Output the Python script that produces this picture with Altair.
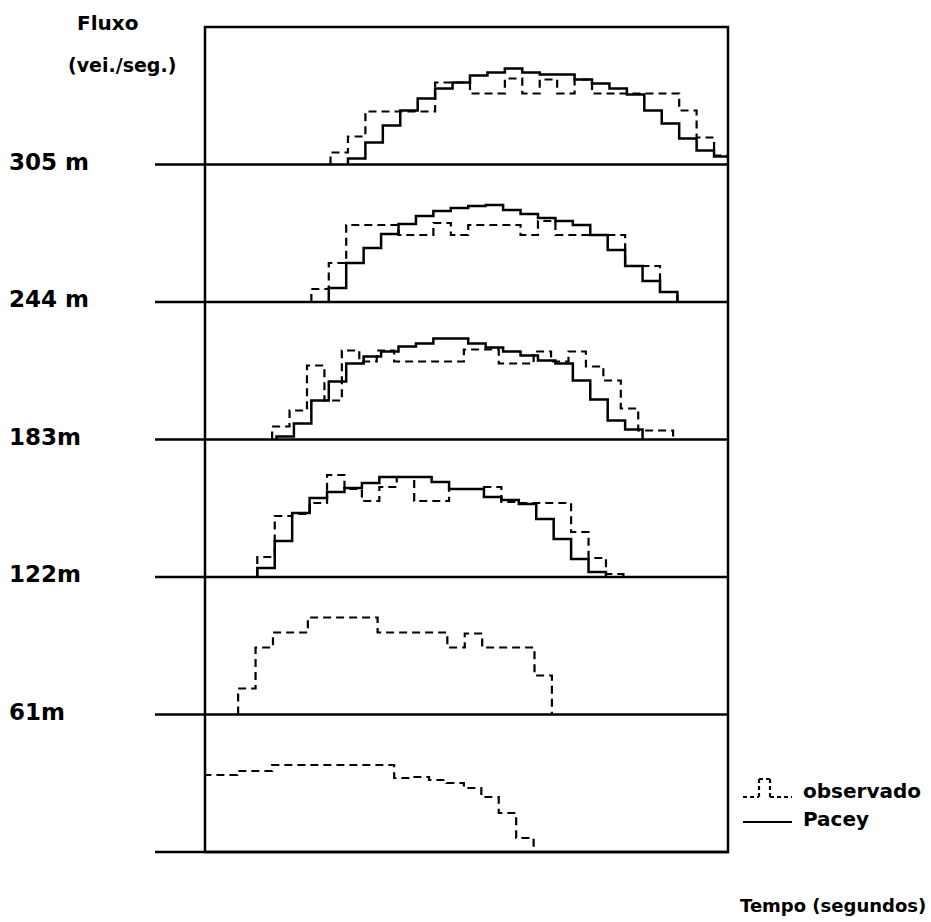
import altair as alt
import pandas as pd

# Eixo do tempo (s) e escala vertical de cada painel (vei./seg.)
TEMPO_MAX = 300
PASSO = 10
ALTURA_PAINEL = 1.375
N_PAINEIS = 6

# Rótulos das secções, de baixo para cima
rotulos = ["", "61m", "122m", "183m", "244 m", "305 m"]

# Fluxo observado por intervalo de 10 s: (painel, início do 1º intervalo, fluxos)
obs_0m_t0 = -1.5
obs_0m = [0.77, 0.77, 0.81, 0.81, 0.87, 0.87, 0.87, 0.87, 0.87, 0.87, 0.87,
          0.74, 0.75, 0.72, 0.69, 0.64, 0.55, 0.39, 0.14]
obs_61_t0 = 19
obs_61 = [0.26, 0.67, 0.82, 0.82, 0.97, 0.97, 0.97, 0.97, 0.82, 0.82, 0.82,
          0.82, 0.67, 0.81, 0.67, 0.67, 0.67, 0.39]
obs_122_t0 = 30
obs_122 = [0.20, 0.61, 0.63, 0.74, 1.02, 0.88, 0.76, 0.90, 1.00, 0.76, 0.76,
           0.88, 0.88, 0.90, 0.75, 0.74, 0.74, 0.74, 0.45, 0.19, 0.03]
obs_183_t0 = 38.5
obs_183 = [0.13, 0.29, 0.74, 0.39, 0.89, 0.78, 0.89, 0.78, 0.78, 0.78, 0.78,
           0.90, 0.90, 0.76, 0.76, 0.88, 0.78, 0.88, 0.73, 0.59, 0.31, 0.09, 0.09]
obs_244_t0 = 61
obs_244 = [0.13, 0.39, 0.77, 0.77, 0.77, 0.67, 0.67, 0.79, 0.67, 0.77, 0.77,
           0.77, 0.67, 0.81, 0.67, 0.67, 0.67, 0.67, 0.36, 0.36, 0.10]
obs_305_t0 = 72
obs_305 = [0.12, 0.28, 0.53, 0.53, 0.53, 0.53, 0.82, 0.82, 0.71, 0.71, 0.86,
           0.71, 0.85, 0.71, 0.85, 0.71, 0.71, 0.71, 0.71, 0.71, 0.54, 0.27, 0.09]

# Fluxo previsto pelo modelo de Pacey
pac_122_t0 = 30
pac_122 = [0.09, 0.36, 0.64, 0.79, 0.85, 0.89, 0.94, 1.00, 1.00, 1.00, 0.95,
           0.88, 0.88, 0.80, 0.77, 0.73, 0.58, 0.38, 0.18, 0.05]
pac_183_t0 = 41
pac_183 = [0.03, 0.16, 0.39, 0.58, 0.76, 0.83, 0.88, 0.93, 0.96, 1.01, 1.01,
           0.96, 0.92, 0.88, 0.84, 0.79, 0.76, 0.59, 0.40, 0.19, 0.10]
pac_244_t0 = 71
pac_244 = [0.14, 0.39, 0.54, 0.68, 0.78, 0.86, 0.91, 0.94, 0.96, 0.97, 0.92,
           0.88, 0.84, 0.81, 0.77, 0.67, 0.52, 0.36, 0.21, 0.10]
pac_305_t0 = 82
pac_305 = [0.06, 0.22, 0.39, 0.54, 0.66, 0.76, 0.82, 0.89, 0.92, 0.96, 0.92,
           0.90, 0.90, 0.85, 0.81, 0.76, 0.70, 0.54, 0.41, 0.26, 0.14, 0.08]

series = [
    (0, "observado", obs_0m_t0, obs_0m),
    (1, "observado", obs_61_t0, obs_61),
    (2, "observado", obs_122_t0, obs_122),
    (3, "observado", obs_183_t0, obs_183),
    (4, "observado", obs_244_t0, obs_244),
    (5, "observado", obs_305_t0, obs_305),
    (2, "Pacey", pac_122_t0, pac_122),
    (3, "Pacey", pac_183_t0, pac_183),
    (4, "Pacey", pac_244_t0, pac_244),
    (5, "Pacey", pac_305_t0, pac_305),
]

# Histogramas em degraus: cada intervalo vira um patamar horizontal
linhas = []
for painel, serie, t0, fluxos in series:
    base = painel * ALTURA_PAINEL
    pontos = [(t0, 0.0)]
    for k, f in enumerate(fluxos):
        pontos.append((t0 + k * PASSO, f))
        pontos.append((t0 + (k + 1) * PASSO, f))
    pontos.append((t0 + len(fluxos) * PASSO, 0.0))
    for i, (t, f) in enumerate(pontos):
        linhas.append({"id": f"{serie}-{painel}", "serie": serie, "ordem": i,
                       "tempo": t, "y": base + f})
df = pd.DataFrame(linhas)

df_base = pd.DataFrame({
    "base": [i * ALTURA_PAINEL for i in range(N_PAINEIS)],
    "rotulo": rotulos,
})

W, H = 523, 825
x_esc = alt.Scale(domain=[0, TEMPO_MAX])
y_esc = alt.Scale(domain=[0, N_PAINEIS * ALTURA_PAINEL])
FONTE = "DejaVu Sans"

degraus_obs = alt.Chart(df).transform_filter(alt.datum.serie == "observado").mark_line(
    clip=True, color="black", strokeWidth=2.2, strokeDash=[8, 5]
).encode(
    x=alt.X("tempo:Q", scale=x_esc, axis=None),
    y=alt.Y("y:Q", scale=y_esc, axis=None),
    detail="id:N",
    order="ordem:Q",
)

degraus_pac = alt.Chart(df).transform_filter(alt.datum.serie == "Pacey").mark_line(
    clip=True, color="black", strokeWidth=2.5
).encode(
    x=alt.X("tempo:Q", scale=x_esc, axis=None),
    y=alt.Y("y:Q", scale=y_esc, axis=None),
    detail="id:N",
    order="ordem:Q",
)

bases = alt.Chart(df_base).mark_rule(color="black", strokeWidth=2.5).encode(
    y=alt.Y("base:Q", scale=y_esc, axis=None),
    x=alt.value(-50),
    x2=alt.value(W),
)

textos_paineis = alt.Chart(df_base).mark_text(
    align="left", baseline="alphabetic", dy=5, font=FONTE, fontSize=23,
    fontWeight="bold", color="black"
).encode(
    y=alt.Y("base:Q", scale=y_esc, axis=None),
    x=alt.value(-196),
    text="rotulo:N",
)


def texto(s, x, y, tamanho):
    return alt.Chart(df_base.head(1)).mark_text(
        align="left", baseline="alphabetic", font=FONTE, fontSize=tamanho,
        fontWeight="bold", color="black"
    ).encode(x=alt.value(x), y=alt.value(y), text=alt.value(s))


def traco(x1, x2, y1, y2, tracejado=None):
    kw = {"color": "black", "strokeWidth": 2.2}
    if tracejado:
        kw["strokeDash"] = tracejado
    return alt.Chart(df_base.head(1)).mark_rule(**kw).encode(
        x=alt.value(x1), x2=alt.value(x2), y=alt.value(y1), y2=alt.value(y2)
    )


legenda = [
    # símbolo do observado: impulso tracejado
    traco(538, 554, 770, 770, [4, 3]),
    traco(554, 554, 752, 770, [4, 3]),
    traco(554, 565, 752, 752, [4, 3]),
    traco(565, 565, 752, 770, [4, 3]),
    traco(565, 587, 770, 770, [4, 3]),
    # símbolo do Pacey: linha cheia
    traco(538, 587, 795, 795),
    texto("observado", 598, 771, 20),
    texto("Pacey", 598, 799, 20),
]

titulos = [
    texto("Fluxo", -128, 3, 20),
    texto("(vei./seg.)", -137, 45, 19),
    texto("Tempo (segundos)", 535, 885, 18),
]

chart = alt.layer(
    bases, degraus_obs, degraus_pac, textos_paineis, *legenda, *titulos
).properties(
    width=W,
    height=H,
    padding={"left": 205, "top": 27, "right": 203, "bottom": 70},
    autosize="none",
    background="white",
).configure_view(stroke="black", strokeWidth=2.5)

chart.save("out.html", embed_options={"renderer": "svg", "actions": False})
